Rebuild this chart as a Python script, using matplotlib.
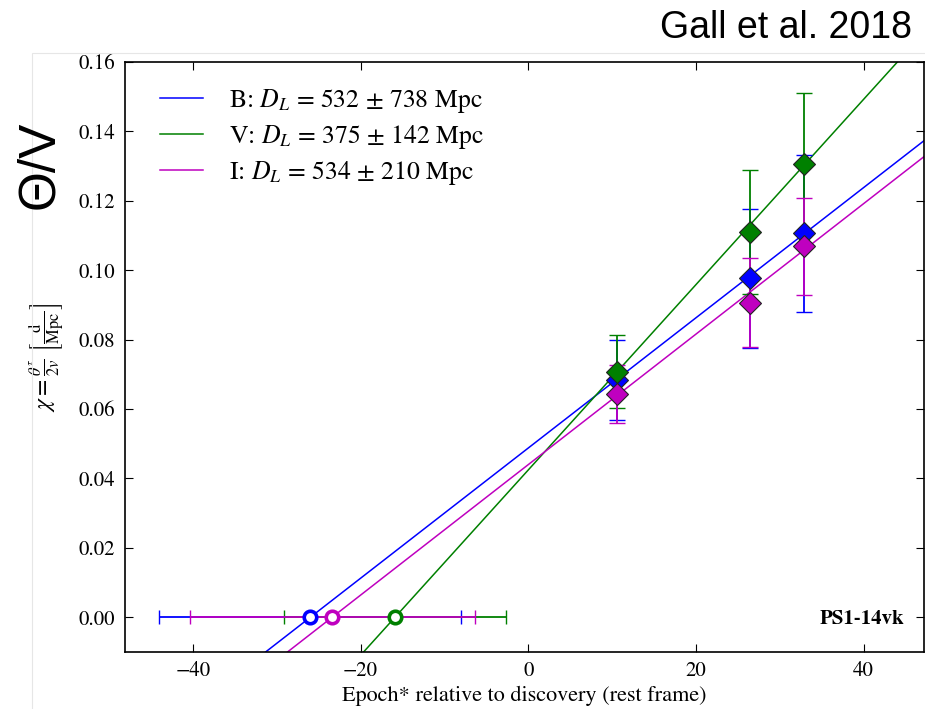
import numpy as np
import matplotlib
matplotlib.use('Agg')
import matplotlib.pyplot as plt
from matplotlib.patches import Rectangle

plt.rcParams['font.family'] = ['STIXGeneral', 'DejaVu Serif']
plt.rcParams['mathtext.fontset'] = 'stix'

# epochs of the measurements (rest frame days)
epochs = [10.6, 26.5, 32.9]

# chi values and errors per band
bands = ['B', 'V', 'I']
colors = {'B': '#0000ff', 'V': '#008000', 'I': '#bf00bf'}
chi = {
    'B': [0.0684, 0.0977, 0.1107],
    'V': [0.0708, 0.1110, 0.1306],
    'I': [0.0644, 0.0907, 0.1069],
}
chi_err = {
    'B': [0.0115, 0.0200, 0.0226],
    'V': [0.0105, 0.0178, 0.0205],
    'I': [0.0083, 0.0127, 0.0140],
}

# linear fit: x-intercept (epoch of zero chi), its error and slope
t0 = {'B': -26.0, 'V': -15.9, 'I': -23.4}
t0_err = {'B': 18.0, 'V': 13.2, 'I': 17.0}
slope = {'B': 0.001876, 'V': 0.00267, 'I': 0.00188}

dist = {'B': (532, 738), 'V': (375, 142), 'I': (534, 210)}

fig = plt.figure(figsize=(9.25, 7.09), dpi=100)
# faint frame of the slide
fig.patches.append(Rectangle((32 / 925, -0.1), 2, (709 - 53) / 709 + 0.1,
                             transform=fig.transFigure, fill=False,
                             edgecolor='#e6e6e6', linewidth=0.8))
ax = fig.add_axes([125 / 925, 1 - 652 / 709, (924 - 125) / 925, (652 - 62) / 709])

xlim = (-48.1, 47.2)
xx = np.linspace(xlim[0], xlim[1], 200)

for b in bands:
    c = colors[b]
    dl, dle = dist[b]
    ax.plot(xx, slope[b] * (xx - t0[b]), color=c, lw=1.1,
            label=r'%s: $D_L$ = %d $\pm$ %d Mpc' % (b, dl, dle), zorder=2)

for b in bands:
    c = colors[b]
    ax.errorbar([t0[b]], [0.0], xerr=[t0_err[b]], fmt='none', ecolor=c,
                elinewidth=1.3, capsize=5, capthick=1.0, zorder=3)

for b in bands:
    c = colors[b]
    ax.errorbar(epochs, chi[b], yerr=chi_err[b], fmt='none', ecolor=c,
                elinewidth=1.3, capsize=6, capthick=1.0, zorder=4)

for b in bands:
    c = colors[b]
    ax.plot(epochs, chi[b], 'D', ms=11, mfc=c, mec='#222222', mew=0.8, zorder=5)

for b in bands:
    c = colors[b]
    ax.plot([t0[b]], [0.0], 'o', ms=9, mfc='white', mec=c, mew=2.6, zorder=6)

ax.set_xlim(*xlim)
ax.set_ylim(-0.01, 0.16)
ax.set_xticks([-40, -20, 0, 20, 40])
ax.set_yticks(np.arange(0, 0.161, 0.02))
ax.yaxis.set_major_formatter(matplotlib.ticker.FormatStrFormatter('%.2f'))
ax.tick_params(direction='in', top=True, right=True, length=6, width=0.8,
               labelsize=15, pad=7)
for s in ax.spines.values():
    s.set_linewidth(1.2)

ax.set_xlabel('Epoch* relative to discovery (rest frame)', fontsize=16, labelpad=3)
ax.set_ylabel(r'$\chi = \frac{\theta^{\tau}}{2v}\ \left[\frac{\rm d}{\rm Mpc}\right]$',
              fontsize=17, labelpad=8)

ax.legend(loc='upper left', bbox_to_anchor=(0.008, 1.005), frameon=False,
          fontsize=18.5, handlelength=1.7, handletextpad=1.0,
          borderaxespad=0.6, borderpad=0.5, labelspacing=0.3)

ax.text(0.975, 0.04, 'PS1-14vk', transform=ax.transAxes, ha='right', va='bottom',
        fontsize=15, fontweight='bold')

fig.text(912 / 925, 1 - 28 / 709, 'Gall et al. 2018', ha='right', va='center',
         fontsize=27, family='Liberation Sans')
fig.text(40 / 925, 1 - 165 / 709, 'Θ/V', ha='center', va='center',
         rotation=90, fontsize=37, family='Liberation Sans')

fig.savefig('out.png', dpi=100)
